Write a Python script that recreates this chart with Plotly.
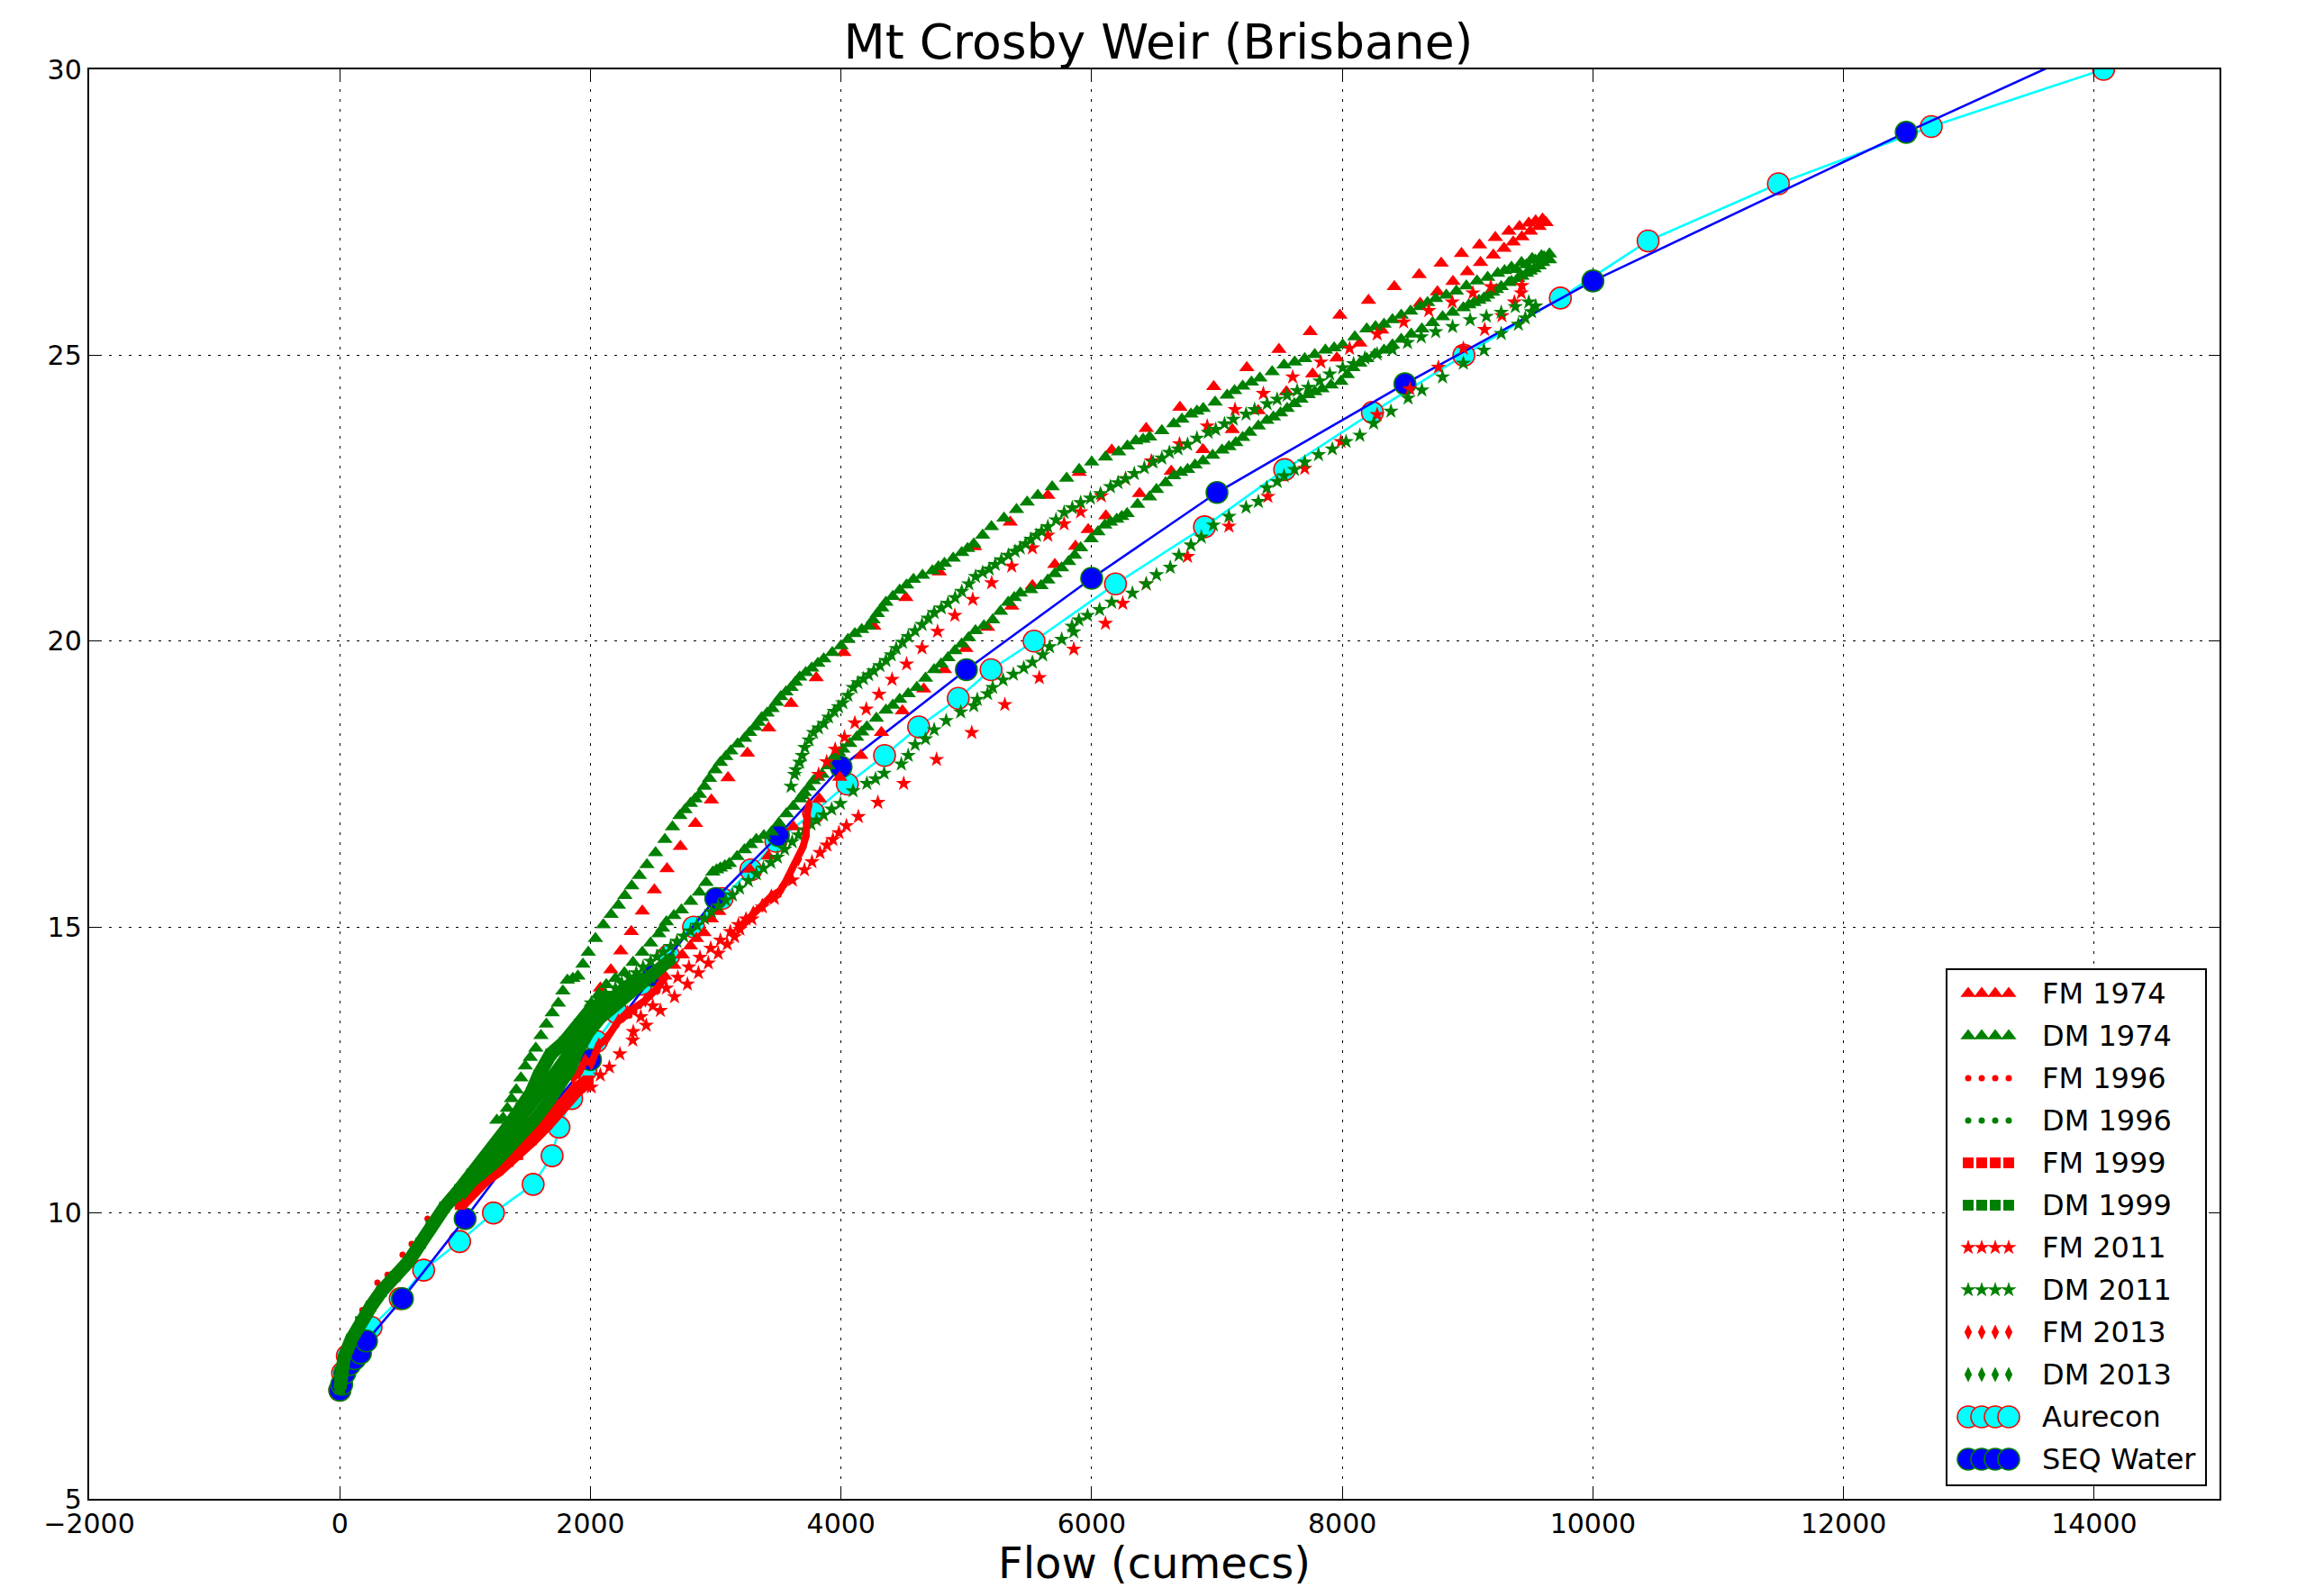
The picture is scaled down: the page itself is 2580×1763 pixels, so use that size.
import plotly.graph_objects as go

TITLE = "Mt Crosby Weir (Brisbane)"
XLABEL = "Flow (cumecs)"
XTICKS = [-2000, 0, 2000, 4000, 6000, 8000, 10000, 12000, 14000]
XTICK_LABELS = ["\u22122000", "0", "2000", "4000", "6000", "8000", "10000", "12000", "14000"]
YTICKS = [5, 10, 15, 20, 25, 30]

aurecon_q = [0, 22, 60, 118, 250, 482, 669, 956, 1226, 1543, 1694, 1749, 1850, 1964, 2047, 2212, 2405, 2625, 2823,
             3050, 3280, 3480, 3780, 4050, 4347, 4619, 4935, 5197, 5540, 6190, 6900, 7540, 8240, 8970, 9740,
             10440, 11480, 12700, 14075]
aurecon_h = [6.9, 7.2, 7.5, 7.6, 8, 8.5, 9, 9.5, 10, 10.5, 11, 11.5, 12, 12.5, 13, 13.5, 14, 14.5, 15,
             15.5, 16, 16.5, 17, 17.5, 18, 18.5, 19, 19.5, 20, 21, 22, 23, 24, 25, 26,
             27, 28, 29, 30]

seq_q = [0, 15, 40, 80, 120, 165, 213, 500, 1000, 1500, 2000, 2500, 3000, 3500, 4000, 5000, 6000, 7000, 8500,
         10000, 12500, 15000]
seq_h = [6.9, 7.0, 7.2, 7.35, 7.45, 7.55, 7.76, 8.5, 9.9, 11.35, 12.68, 14.15, 15.5, 16.6, 17.8, 19.5, 21.1, 22.6, 24.5,
         26.3, 28.9, 31.4]

fm1974_q = [2000, 2079, 2163, 2242, 2326, 2414, 2510, 2611, 2718, 2838, 2965, 3098, 3253, 3422, 3601, 3802, 4022, 4261,
            4517, 4784, 5065, 5350, 5650, 5900, 6160, 6435, 6704, 6974, 7238, 7494, 7744, 7981, 8209, 8415, 8613,
            8789, 8951, 9095, 9221, 9329, 9414, 9488, 9543, 9598, 9626, 9570, 9501, 9433, 9364, 9290, 9205, 9103,
            8998, 8883, 8759, 8621, 8314, 8140, 7956, 7763, 7554, 7329, 7122, 6888, 6635, 6382, 6113, 5972, 5871,
            5706, 5527, 5362, 5169, 4996, 4825, 4660, 4490, 4322, 4157, 3990, 3827, 3620, 3420, 3271, 3025, 2965,
            2906, 2846, 2798, 2733, 2666, 2594]
fm1974_h = [13.6, 13.93, 14.25, 14.58, 14.92, 15.28, 15.65, 16.02, 16.41, 16.81, 17.22, 17.61, 18.04, 18.48, 18.91,
            19.36, 19.8, 20.26, 20.76, 21.21, 21.65, 22.08, 22.55, 22.95, 23.34, 23.72, 24.09, 24.45, 24.78, 25.1,
            25.41, 25.7, 25.96, 26.2, 26.41, 26.61, 26.78, 26.93, 27.06, 27.17, 27.25, 27.31, 27.35, 27.38, 27.32,
            27.25, 27.17, 27.07, 26.98, 26.87, 26.75, 26.62, 26.46, 26.29, 26.11, 25.91, 25.44, 25.21, 24.95, 24.67,
            24.36, 24.03, 23.7, 23.35, 22.97, 22.58, 22.19, 21.95, 21.66, 21.34, 20.97, 20.61, 20.24, 19.87, 19.5,
            19.16, 18.78, 18.4, 18.0, 17.62, 17.24, 16.75, 16.24, 16.01, 15.27, 15.14, 14.9, 14.8, 14.67, 14.51, 14.33,
            14.14]

dm1974_q = [1253, 1303, 1337, 1370, 1408, 1445, 1480, 1520, 1564, 1605, 1648, 1695, 1744, 1780, 1816, 1860, 1900, 1940,
            1983, 2040, 2103, 2165, 2223, 2275, 2330, 2390, 2451, 2520, 2594, 2655, 2714, 2755, 2798, 2835, 2870, 2910,
            2950, 2995, 3037, 3080, 3120, 3175, 3230, 3270, 3312, 3340, 3367, 3410, 3450, 3485, 3519, 3560, 3601, 3635,
            3670, 3718, 3766, 3815, 3862, 3930, 4000, 4055, 4110, 4165, 4220, 4255, 4290, 4325, 4358, 4413, 4468, 4523,
            4578, 4650, 4729, 4777, 4825, 4895, 4963, 5010, 5059, 5130, 5200, 5300, 5400, 5485, 5570, 5685, 5800, 5900,
            6000, 6110, 6215, 6285, 6352, 6410, 6462, 6560, 6655, 6720, 6792, 6840,
            6890, 6985, 7081, 7140, 7205, 7275, 7342, 7440, 7535, 7620, 7700, 7780, 7865, 7935, 8003, 8100, 8195, 8265,
            8333, 8400, 8470, 8545, 8620, 8680, 8745, 8830, 8910, 8990, 9075, 9160, 9240, 9295, 9350, 9390,
            9430, 9470, 9515, 9540, 9590, 9610, 9653, 9653, 9600, 9570, 9530, 9500, 9470, 9433, 9400, 9350, 9330,
            9268, 9230, 9200, 9160, 9130, 9090, 9050, 9010, 8966, 8880, 8800, 8720, 8635,
            8550, 8470, 8400, 8333, 8260, 8195, 8140, 8085, 8040, 7989, 7910, 7838, 7780, 7728, 7670,
            7618, 7560, 7507, 7450, 7397, 7330, 7260, 7205, 7150, 7095, 7040, 6965, 6888, 6825, 6765, 6710, 6655, 6590,
            6517, 6462, 6366, 6283, 6240, 6200, 6150, 6105, 6050, 5995, 5912,
            5864, 5816, 5760, 5706, 5650, 5596, 5513, 5431, 5382, 5334, 5272, 5210, 5140, 5073, 5018, 4963, 4908, 4853,
            4798, 4743, 4674, 4605, 4536, 4468, 4413, 4358, 4282, 4206, 4165, 4124, 4069, 4014, 3980, 3945, 3897,
            3849, 3815, 3780, 3744, 3708, 3690, 3672, 3618, 3564, 3504, 3444, 3384, 3324, 3277, 3229, 3170, 3109, 3073,
            3037, 3007, 2977, 2923, 2869, 2800, 2726, 2666, 2606, 2576, 2546, 2480, 2414, 2340, 2271, 2200,
            2127, 2067, 2007]
dm1974_h = [11.62, 11.66, 11.83, 12.0, 12.15, 12.36, 12.57, 12.72, 12.88, 13.1, 13.3, 13.5, 13.67, 13.88, 14.07, 14.1,
            14.14, 14.35, 14.56, 14.8, 15.04, 15.22, 15.38, 15.55, 15.72, 15.9, 16.09, 16.3, 16.53, 16.75, 16.95, 17.05,
            17.16, 17.24, 17.32, 17.46, 17.6, 17.75, 17.88, 17.98, 18.08, 18.2, 18.3, 18.4, 18.5, 18.58, 18.66, 18.74,
            18.82, 18.93, 19.03, 19.11, 19.19, 19.28, 19.37, 19.45, 19.53, 19.61, 19.69, 19.8, 19.92, 20.03, 20.13,
            20.2, 20.26, 20.37, 20.48, 20.58, 20.68, 20.78, 20.89, 20.98, 21.08, 21.15, 21.23, 21.3, 21.36, 21.45, 21.55,
            21.62, 21.7, 21.85, 22.0, 22.15, 22.3, 22.43, 22.55, 22.7, 22.85, 23.0,
            23.13, 23.22, 23.31, 23.41, 23.5, 23.53, 23.57, 23.68, 23.8, 23.88, 23.97, 24.02,
            24.07, 24.18, 24.3, 24.38, 24.46, 24.53, 24.6, 24.71, 24.83, 24.88, 24.94, 25.01, 25.09, 25.13, 25.18, 25.32,
            25.46, 25.5, 25.54, 25.62, 25.7, 25.77, 25.85, 25.92, 25.99, 26.05, 26.12, 26.21, 26.3, 26.36, 26.43, 26.48,
            26.54, 26.5, 26.62, 26.58, 26.69, 26.66, 26.74, 26.72, 26.77, 26.67, 26.62, 26.56, 26.51, 26.47, 26.43, 26.38,
            26.34, 26.29, 26.27, 26.2, 26.15, 26.1, 26.05, 26.0, 25.96, 25.92, 25.88, 25.83, 25.75, 25.67, 25.57, 25.46,
            25.37, 25.28, 25.18, 25.09, 25.02, 24.94, 24.86, 24.78, 24.66, 24.54, 24.48, 24.41, 24.36, 24.31, 24.23,
            24.15, 24.07, 23.99, 23.92, 23.86, 23.76, 23.65, 23.56, 23.47, 23.4, 23.34, 23.25, 23.15, 23.08, 23.0, 22.95,
            22.89, 22.77, 22.65, 22.52, 22.39, 22.23, 22.18, 22.13, 22.08, 22.03, 21.91, 21.79, 21.63,
            21.5, 21.39, 21.28, 21.18, 21.07, 20.97, 20.9, 20.84, 20.76, 20.68, 20.52, 20.37, 20.27, 20.18, 20.06, 19.95,
            19.83, 19.71, 19.6, 19.5, 19.35, 19.19, 19.08, 18.98, 18.88, 18.79, 18.65, 18.5, 18.41, 18.32, 18.21, 18.11,
            18.05, 17.98, 17.82, 17.67, 17.62, 17.56, 17.45, 17.35, 17.3, 17.24, 17.11, 16.98, 16.82, 16.66, 16.6, 16.53,
            16.44, 16.35, 16.23, 16.11, 16.07, 16.03, 16.0, 15.96, 15.78, 15.61, 15.45, 15.3, 15.2, 15.09, 14.98, 14.88,
            14.72, 14.56, 14.38, 14.2, 14.1, 13.99, 13.83, 13.67]

fm1996_q = [60, 180, 300, 381, 501, 573, 700, 2311, 2350, 2390, 2431, 2474, 2534]
fm1996_h = [7.62, 8.3, 8.78, 8.92, 9.27, 9.46, 9.9, 13.45, 13.52, 13.62, 13.7, 13.78, 13.88]

dm1996_q = [1100, 1300, 1450, 1600, 1720, 1850, 1950, 2100, 2250, 2400]
dm1996_h = [10.7, 11.25, 11.65, 12.05, 12.45, 12.85, 13.25, 13.6, 13.85, 14.15]

fm1999_q = [960, 1060, 1160, 1260, 1345, 1420, 1528, 1648, 1768, 1887, 1983]
fm1999_h = [10.15, 10.42, 10.6, 10.75, 10.9, 11.02, 11.28, 11.55, 11.89, 12.15, 12.31]

dm1999_q = [0, 10, 34, 93, 165, 249, 333, 441, 549, 645, 728, 836, 956, 1052, 1241, 1349, 1444, 1528, 1588, 1684,
            1792, 1911, 2007, 2175]
dm1999_h = [6.92, 7.16, 7.47, 7.79, 8.1, 8.37, 8.63, 8.89, 9.15, 9.47, 9.78, 10.1, 10.41, 10.68, 11.15, 11.52, 11.83,
            12.1, 12.41, 12.78, 12.99, 13.3, 13.57, 13.78]

fm2011_q = [2007, 2079, 2151, 2235, 2338, 2445, 2558, 2671, 2774, 2862, 2941, 3020, 3092, 3150, 3193, 3289, 3372, 3468,
            3612, 3708, 3768, 3832, 3887, 3935, 3983, 4043, 4138, 4294, 4500, 4762, 5043, 5307, 5582, 5857, 6110,
            6248, 6435, 6765, 7095, 7406, 7700, 7989, 8278, 8539, 8767, 8966, 9136, 9274, 9373, 9428, 9433, 9185,
            9042, 8877, 8690, 8490, 8278, 8058, 7829, 7604, 7370, 7144, 6922, 6701, 6476, 6270, 6077, 5912, 5780,
            5650, 5527, 5362, 5202, 5051, 4908, 4770, 4646, 4523, 4407, 4303, 4201, 4110, 4027, 3953, 3885, 3821,
            3241, 3181, 3116, 3037, 2960, 2874, 2786, 2697, 2606, 2498, 2402, 2342]
fm2011_h = [12.2, 12.41, 12.55, 12.78, 13.02, 13.28, 13.54, 13.78, 14.0, 14.2, 14.37, 14.54, 14.7, 14.83, 14.96, 15.14,
            15.35, 15.5, 15.82, 16.0, 16.14, 16.3, 16.43, 16.53, 16.65, 16.77, 16.93, 17.18, 17.51, 17.93, 18.4, 18.89,
            19.36, 19.86, 20.31, 20.66, 21.0, 21.48, 22.01, 22.53, 23.02, 23.49, 23.96, 24.41, 24.79, 25.12, 25.45,
            25.69, 25.93, 26.09, 26.22, 26.2, 26.09, 25.93, 25.78, 25.58, 25.37, 25.12, 24.88, 24.62, 24.33, 24.05,
            23.76, 23.45, 23.15, 22.84, 22.54, 22.26, 22.05, 21.85, 21.63, 21.31, 21.02, 20.73, 20.45, 20.17, 19.88,
            19.6, 19.33, 19.07, 18.81, 18.57, 18.32, 18.11, 17.89, 17.67, 15.14, 15.04, 14.92, 14.77, 14.63, 14.47,
            14.3, 14.12, 13.93, 13.62, 13.43, 13.17]

dm2011_q = [2007, 2060, 2120, 2199, 2250, 2310, 2366, 2420, 2480, 2530, 2582, 2640, 2690, 2745, 2798, 2850, 2910, 2965,
            3020, 3080, 3133, 3190, 3260, 3324, 3380, 3440, 3492, 3550, 3610, 3660, 3710, 3760, 3803, 3860, 3925,
            3995, 4096, 4206, 4275, 4344, 4481, 4536, 4591, 4674, 4743, 4839, 4955, 5059, 5087, 5169, 5210, 5293,
            5375, 5458, 5527, 5609, 5664, 5761, 5857, 5843, 5898, 5967, 6063, 6160, 6325, 6435, 6517, 6627, 6696,
            6792, 6875, 6971, 7095, 7232, 7330, 7397, 7480, 7535, 7618, 7700, 7810, 7920, 8030, 8140, 8250, 8388,
            8525, 8635, 8800, 8966, 9130, 9268, 9405, 9460, 9510, 9543, 9488, 9380, 9268, 9150, 9020, 8880, 8745,
            8630, 8520, 8400, 8278, 8180, 8090, 8003, 7900, 7820, 7728, 7640, 7560, 7480, 7400, 7300, 7232, 7130,
            7060, 6990, 6930, 6840, 6765, 6690, 6620, 6560, 6490, 6420, 6340, 6270, 6210, 6150, 6070, 5990, 5912,
            5845, 5780, 5715, 5650, 5600, 5560, 5515, 5472, 5430, 5389, 5335, 5279, 5230, 5183, 5130,
            5073, 5020, 4963, 4910, 4853, 4800, 4743, 4695, 4646, 4590, 4536, 4490, 4440, 4400, 4358, 4310, 4261,
            4220, 4179, 4135, 4096, 4055, 4014, 3980, 3945, 3900, 3862, 3820, 3780, 3745, 3711, 3690, 3670,
            3640, 3629, 3601]
dm2011_h = [13.67, 13.75, 13.84, 13.93, 14.02, 14.12, 14.2, 14.3, 14.4, 14.48, 14.56, 14.66, 14.75, 14.84, 14.93, 15.03,
            15.15, 15.27, 15.37, 15.47, 15.56, 15.68, 15.81, 15.93, 16.03, 16.13, 16.22, 16.36, 16.49, 16.61, 16.7,
            16.8, 16.87, 16.96, 17.06, 17.16, 17.38, 17.51, 17.59, 17.69, 17.85, 18.0, 18.19, 18.29, 18.45, 18.61,
            18.76, 18.87, 18.98, 19.08, 19.19, 19.32, 19.42, 19.53, 19.63, 19.76, 19.9, 20.03, 20.16, 20.26, 20.37,
            20.45, 20.55, 20.68, 20.84, 21.0, 21.16, 21.29, 21.5, 21.68, 21.82, 22.03, 22.18, 22.34, 22.44, 22.68,
            22.79, 22.89, 23.0, 23.13, 23.26, 23.36, 23.49, 23.6, 23.81, 24.02, 24.25, 24.39, 24.62, 24.86, 25.09,
            25.38, 25.54, 25.65, 25.76, 25.86, 25.93, 25.85, 25.75, 25.68, 25.62, 25.5, 25.41,
            25.32, 25.22, 25.1, 25.02, 24.95, 24.85, 24.78, 24.67, 24.55, 24.44, 24.38, 24.3, 24.23, 24.15, 24.05, 23.97,
            23.88, 23.8, 23.7, 23.65, 23.55, 23.44, 23.36, 23.3, 23.2, 23.13, 23.03, 22.93, 22.84, 22.77, 22.7, 22.58,
            22.5, 22.42, 22.33, 22.25, 22.12, 22.0, 21.92, 21.85, 21.78, 21.7, 21.63, 21.57, 21.5, 21.42, 21.34, 21.26,
            21.2, 21.13, 21.0, 20.87, 20.76, 20.66, 20.58, 20.5, 20.4, 20.29, 20.18, 20.08, 19.98, 19.87, 19.76, 19.66,
            19.57, 19.48, 19.41, 19.34, 19.27, 19.19, 19.05, 18.92, 18.85, 18.77, 18.67, 18.56, 18.48, 18.4, 18.27,
            18.14, 18.0, 17.88, 17.75, 17.67, 17.46]

fm2013_q = [1863, 1911, 1959, 2007, 2067, 2127, 2223, 2295, 2438, 2534, 2594, None,
            3181, 3241, 3300, 3372, 3444, 3516, 3564, 3612, 3660, 3696, 3720, 3720, 3732, 3744]
fm2013_h = [12.36, 12.46, 12.67, 12.62, 12.94, 13.04, 13.36, 13.51, 13.72, 13.93, 14.12, None,
            14.98, 15.12, 15.25, 15.38, 15.54, 15.64, 15.82, 16.03, 16.19, 16.4, 16.59, 16.82, 17.03, 17.14]

dm2013_q = [956, 1052, 1241, 1337, 1456, 1552, 1648, 1744, 1840, 1888, 1983, 2079, 2199, 2342, 2510, 2654]
dm2013_h = [10.3, 10.55, 10.89, 11.1, 11.41, 11.62, 11.89, 12.2, 12.52, 12.78, 13.15, 13.41, 13.62, 13.88, 14.14, 14.46]

LEGEND_LABELS = ["FM 1974", "DM 1974", "FM 1996", "DM 1996", "FM 1999", "DM 1999",
                 "FM 2011", "DM 2011", "FM 2013", "DM 2013", "Aurecon", "SEQ Water"]

RED, GREEN = "#ff0000", "#008000"
W, H = 2580, 1763
PAGE = 8  # the page's own margin around the figure
L, R, T, B = 99, 2464, 77, 1664
FONT = "DejaVu Sans"

# label, q, h, symbol, size, colour, band-width (0 = markers only)
SERIES = [
    ("FM 1974", fm1974_q, fm1974_h, "triangle-up", 15, RED, 0),
    ("DM 1974", dm1974_q, dm1974_h, "triangle-up", 15, GREEN, 0),
    ("FM 1996", fm1996_q, fm1996_h, "circle", 7, RED, 0),
    ("DM 1996", dm1996_q, dm1996_h, "circle", 7, GREEN, 14),
    ("FM 1999", fm1999_q, fm1999_h, "square", 12, RED, 16),
    ("DM 1999", dm1999_q, dm1999_h, "square", 12, GREEN, 15),
    ("FM 2011", fm2011_q, fm2011_h, "star", 13, RED, 0),
    ("DM 2011", dm2011_q, dm2011_h, "star", 13, GREEN, 0),
    ("FM 2013", fm2013_q, fm2013_h, "diamond-tall", 12, RED, 8),
    ("DM 2013", dm2013_q, dm2013_h, "diamond-tall", 12, GREEN, 14),
]

fig = go.Figure()

fig.add_trace(go.Scatter(x=aurecon_q, y=aurecon_h, name="Aurecon", mode="lines+markers", showlegend=False,
                         line=dict(color="#00ffff", width=2.6),
                         marker=dict(symbol="circle", size=24, color="#00ffff", line=dict(color=RED, width=1.6))))
fig.add_trace(go.Scatter(x=seq_q, y=seq_h, name="SEQ Water", mode="lines+markers", showlegend=False,
                         line=dict(color="#0000ff", width=2.6),
                         marker=dict(symbol="circle", size=24, color="#0000ff", line=dict(color=GREEN, width=1.6))))

for label, q, h, sym, size, col, band in SERIES:
    fig.add_trace(go.Scatter(x=q, y=h, name=label, showlegend=False,
                             mode="lines+markers" if band else "markers",
                             line=dict(color=col, width=band),
                             marker=dict(symbol=sym, size=size, color=col, line=dict(width=0))))

# Four-marker legend keys, drawn on a small inset axes that sits over the plot
BOX = (2162, 2448, 1077, 1648)
ROW0, PITCH, KEY0, KEYDX, TEXTX = 1103, 47, 2185, 15, 2266
xr = [(BOX[0] - KEY0) / KEYDX, (BOX[1] - KEY0) / KEYDX]
yr = [(BOX[3] - ROW0) / PITCH, (BOX[2] - ROW0) / PITCH]
fig.add_trace(go.Scatter(x=[xr[0], xr[1], xr[1], xr[0], xr[0]], y=[yr[0], yr[0], yr[1], yr[1], yr[0]],
                         mode="lines", fill="toself", fillcolor="white", line=dict(width=0),
                         showlegend=False, hoverinfo="skip", xaxis="x2", yaxis="y2"))
KEYS = [(s[3], s[4], s[5]) for s in SERIES] + [("circle", 24, "#00ffff"), ("circle", 24, "#0000ff")]
EDGE = [None] * 10 + [RED, GREEN]
for i, (label, (sym, size, col)) in enumerate(zip(LEGEND_LABELS, KEYS)):
    fig.add_trace(go.Scatter(x=[0, 1, 2, 3], y=[i] * 4, mode="markers", showlegend=False, hoverinfo="skip",
                             xaxis="x2", yaxis="y2",
                             marker=dict(symbol=sym, size=size, color=col,
                                         line=dict(color=EDGE[i] or col, width=1.6 if EDGE[i] else 0))))
    fig.add_annotation(x=(TEXTX - KEY0) / KEYDX, y=i, xref="x2", yref="y2", text=label, showarrow=False,
                       xanchor="left", yanchor="middle", xshift=-1, font=dict(family=FONT, size=32, color="black"))

axis_common = dict(showline=True, linecolor="black", linewidth=2.4, mirror="ticks", ticks="inside", ticklen=12,
                   tickwidth=1.4, tickcolor="black", showgrid=True, gridcolor="black", gridwidth=1.4,
                   griddash="3px,8px", zeroline=False,
                   tickfont=dict(family=FONT, size=30, color="black"))
CW, CH = W - 2 * PAGE, H - PAGE
fig.update_layout(
    width=CW, height=CH, autosize=False, paper_bgcolor="white", plot_bgcolor="white", showlegend=False,
    margin=dict(l=L - PAGE, r=CW - (R - PAGE), t=T - PAGE, b=CH - (B - PAGE), autoexpand=False),
    font=dict(family=FONT, color="black"),
    title=dict(text=TITLE, x=(1286 - PAGE) / CW, y=1 - (46 - PAGE) / CH, xanchor="center", yanchor="middle",
               font=dict(family=FONT, size=53.5, color="black")),
    xaxis=dict(range=[-2000, 15000], tickvals=XTICKS, ticktext=XTICK_LABELS, domain=[0, 1],
               title=dict(text=XLABEL, standoff=20, font=dict(family=FONT, size=48, color="black")), **axis_common),
    yaxis=dict(range=[5, 30], tickvals=YTICKS, domain=[0, 1], **axis_common),
    xaxis2=dict(range=xr, domain=[(BOX[0] - L) / (R - L), (BOX[1] - L) / (R - L)], anchor="y2", showgrid=False,
                zeroline=False, showticklabels=False, ticks="", showline=True, mirror=True, linecolor="black",
                linewidth=2),
    yaxis2=dict(range=yr, domain=[(B - BOX[3]) / (B - T), (B - BOX[2]) / (B - T)], anchor="x2", showgrid=False,
                zeroline=False, showticklabels=False, ticks="", showline=True, mirror=True, linecolor="black",
                linewidth=2),
)
fig.write_html("out.html")
